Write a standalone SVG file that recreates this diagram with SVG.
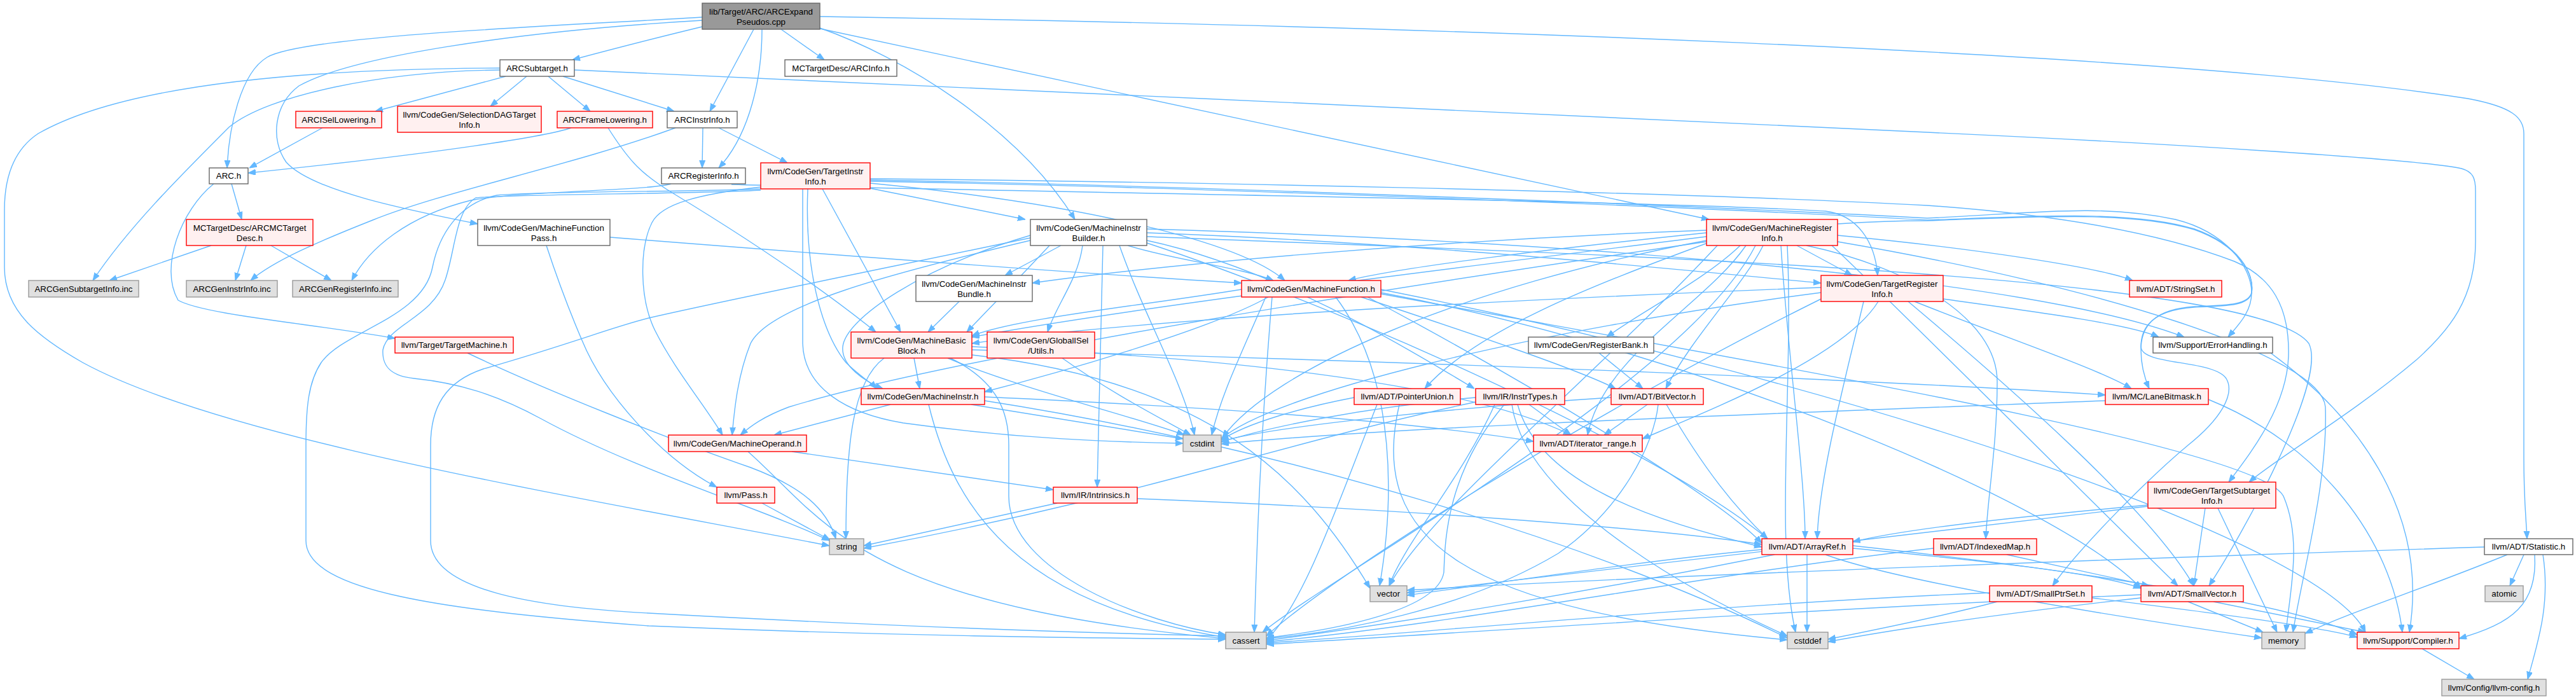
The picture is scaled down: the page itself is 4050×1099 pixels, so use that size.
<svg xmlns="http://www.w3.org/2000/svg" width="4050" height="1099" viewBox="0 0 4050 1099">
<defs>
<marker id="ah" markerWidth="12" markerHeight="10" refX="12" refY="4.5" orient="auto" markerUnits="userSpaceOnUse"><path d="M0,0 L12,4.5 L0,9 z" fill="#63b8ff" stroke="#63b8ff" stroke-width="1"/></marker>
<style>
.e{fill:none;stroke:#63b8ff;stroke-width:1.4;marker-end:url(#ah)}
.nd rect{stroke-width:1.4}
.w rect{fill:#ffffff;stroke:#666666}
.r rect{fill:#fff0f0;stroke:#ff0000}
.g rect{fill:#e0e0e0;stroke:#999999}
.root rect{fill:#999999;stroke:#666666}
.nd text{font-family:"Liberation Sans",Arial,Helvetica,sans-serif;font-size:13.33px;fill:#000000;text-anchor:middle}
</style>
</defs>
<rect x="0" y="0" width="4050" height="1099" fill="#ffffff"/>
<g id="edges">
<path class="e" d="M1104,42 C1050,55 960,78 900,94"/>
<path class="e" d="M1104,27 C900,40 480,55 420,90 C378,115 360,200 357,264"/>
<path class="e" d="M1104,32 C800,50 550,90 470,135 C430,165 425,220 450,255 C490,300 640,330 751,352"/>
<path class="e" d="M1228,46 L1296,94"/>
<path class="e" d="M1185,46 L1116,175"/>
<path class="e" d="M1198,46 C1198,120 1180,210 1130,264"/>
<path class="e" d="M1289,44 C1420,90 1600,200 1690,345"/>
<path class="e" d="M1289,45 L2687,345"/>
<path class="e" d="M1289,26 C2200,40 3400,80 3880,155 C3950,168 3968,185 3968,210 L3968,720 C3968,790 3972,820 3973,847"/>
<path class="e" d="M795,120 L590,175"/>
<path class="e" d="M828,120 L771,167"/>
<path class="e" d="M862,120 L928,175"/>
<path class="e" d="M885,120 L1060,175"/>
<path class="e" d="M903,110 C1500,135 2500,185 3030,208 C3400,225 3800,250 3870,265 C3888,270 3892,280 3892,300 L3892,380 C3892,470 3850,520 3800,565 C3700,650 3580,720 3536,758"/>
<path class="e" d="M786,107 C500,108 200,130 60,210 C15,240 7,290 7,330 L7,420 C7,490 60,530 130,570 C350,690 900,780 1304,858"/>
<path class="e" d="M786,110 C600,112 420,150 360,200 C280,280 200,360 146,441"/>
<path class="e" d="M507,201 L392,264"/>
<path class="e" d="M898,201 C860,214 700,240 390,272"/>
<path class="e" d="M956,201 C990,255 1010,275 1060,305 C1200,390 1300,460 1377,522"/>
<path class="e" d="M364,289 L380,345"/>
<path class="e" d="M336,289 C285,330 250,420 280,472 C320,495 500,510 621,532"/>
<path class="e" d="M332,386 L172,441"/>
<path class="e" d="M387,386 L370,441"/>
<path class="e" d="M426,386 L521,441"/>
<path class="e" d="M1105,201 L1104,264"/>
<path class="e" d="M1130,201 L1238,256"/>
<path class="e" d="M1062,201 C900,260 700,300 586,346 C500,380 430,410 394,441"/>
<path class="e" d="M1150,290 C1500,300 2600,315 2870,332 C2920,338 2948,380 2952,433"/>
<path class="e" d="M1055,289 C1020,300 820,300 740,315 C640,340 580,390 553,441"/>
<path class="e" d="M1368,296 L1612,345"/>
<path class="e" d="M1293,297 L1416,522"/>
<path class="e" d="M1270,297 C1265,420 1290,520 1330,570 C1350,590 1368,600 1378,611"/>
<path class="e" d="M1196,294 C1100,305 1040,320 1025,350 C1005,390 1005,470 1030,520 C1060,580 1110,640 1136,684"/>
<path class="e" d="M1262,297 L1262,540 C1264,610 1330,650 1420,665 C1600,690 1750,695 1860,697"/>
<path class="e" d="M1196,297 C1100,302 850,300 781,307 C720,320 690,370 680,420 C665,500 540,520 505,570 C485,600 481,640 481,700 L481,850 C481,930 700,960 1020,984 C1400,1000 1700,1003 1927,1005"/>
<path class="e" d="M1196,299 C1100,305 800,305 748,311 C716,330 716,393 700,440 C680,500 610,510 602,550 C600,580 620,592 651,595 C720,602 780,620 850,658 C1000,740 1200,800 1304,850"/>
<path class="e" d="M1368,281 C1800,285 2600,300 3030,323 C3200,335 3380,360 3513,411 C3570,435 3600,480 3598,560 C3595,640 3540,710 3504,758"/>
<path class="e" d="M1368,283 C1800,290 2600,320 3030,343 C3200,335 3300,320 3420,345 C3500,365 3540,420 3540,460 C3540,490 3520,510 3503,530"/>
<path class="e" d="M1368,285 C1800,292 2600,322 3030,346 C3200,340 3350,330 3450,360 C3520,385 3545,430 3540,460 C3535,480 3500,480 3450,482 C3390,486 3366,510 3366,550 C3366,575 3372,595 3379,611"/>
<path class="e" d="M1368,288 C1700,320 1950,380 2020,441"/>
<path class="e" d="M959,373 C1300,400 1700,430 1952,445"/>
<path class="e" d="M859,386 C880,450 900,500 915,535 C950,620 1040,720 1127,766"/>
<path class="e" d="M1668,386 L1580,433"/>
<path class="e" d="M1702,386 C1695,440 1660,480 1647,522"/>
<path class="e" d="M1773,386 C1850,410 1950,420 2002,441"/>
<path class="e" d="M1650,386 C1600,440 1550,490 1520,522"/>
<path class="e" d="M1620,370 C1450,420 1330,500 1325,545 C1322,575 1360,600 1388,611"/>
<path class="e" d="M1620,378 C1400,430 1210,480 1180,540 C1160,590 1155,640 1151,684"/>
<path class="e" d="M1803,366 C2200,380 2600,420 2863,445"/>
<path class="e" d="M1803,378 C2000,420 2200,540 2318,611"/>
<path class="e" d="M1734,386 L1725,766"/>
<path class="e" d="M1803,382 C2100,480 2600,700 2779,847"/>
<path class="e" d="M1803,372 C2500,400 3550,430 3630,540 C3660,600 3520,850 3473,921"/>
<path class="e" d="M1803,360 C2500,380 3200,440 3434,530"/>
<path class="e" d="M1620,374 C1400,420 1150,470 1020,500 C960,515 900,540 760,580 C700,600 677,640 677,700 L677,850 C677,930 850,955 1020,964 C1400,985 1700,995 1927,1000"/>
<path class="e" d="M1760,386 C1800,500 1860,600 1878,684"/>
<path class="e" d="M2825,386 L2912,433"/>
<path class="e" d="M2772,386 C2740,450 2660,530 2619,611"/>
<path class="e" d="M2736,386 C2680,440 2580,490 2526,530"/>
<path class="e" d="M2690,380 C2500,450 2320,520 2240,611"/>
<path class="e" d="M2745,386 C2680,480 2520,560 2496,684"/>
<path class="e" d="M2800,386 C2810,550 2838,750 2838,847"/>
<path class="e" d="M2840,386 C3000,420 3140,500 3140,600 C3140,700 3125,780 3122,847"/>
<path class="e" d="M2889,352 C2950,348 3000,347 3030,347 C3200,341 3350,331 3450,361 C3520,386 3545,431 3540,461 C3535,481 3500,481 3450,483 C3390,487 3366,510 3366,545 C3366,575 3480,565 3500,595 C3515,620 3490,660 3440,700 C3380,750 3270,860 3227,921"/>
<path class="e" d="M2889,370 C3100,390 3300,420 3353,441"/>
<path class="e" d="M2683,372 C2300,420 1800,480 1528,530"/>
<path class="e" d="M2683,366 C2450,390 2200,420 2120,441"/>
<path class="e" d="M2683,362 C2200,380 1800,420 1623,445"/>
<path class="e" d="M2683,380 C2200,450 1500,560 1240,640 C1200,655 1180,670 1164,684"/>
<path class="e" d="M2760,386 C2650,600 2100,900 1985,994"/>
<path class="e" d="M2810,386 C2820,600 2790,850 2823,994"/>
<path class="e" d="M2683,378 C2300,450 2000,580 1922,688"/>
<path class="e" d="M2889,380 C3300,450 3650,560 3656,640 C3660,760 3620,900 3605,994"/>
<path class="e" d="M2700,386 C2500,600 2250,800 2184,921"/>
<path class="e" d="M2880,386 C2950,450 3300,800 3424,921"/>
<path class="e" d="M2930,474 C2900,600 2860,750 2857,847"/>
<path class="e" d="M3000,474 C3150,600 3380,800 3449,921"/>
<path class="e" d="M2953,474 C2900,560 2700,640 2582,690"/>
<path class="e" d="M2863,452 C2400,470 1800,500 1528,540"/>
<path class="e" d="M3010,474 C3150,530 3300,580 3351,611"/>
<path class="e" d="M3055,470 C3200,490 3350,510 3394,530"/>
<path class="e" d="M2863,470 C2500,650 2100,900 1991,1000"/>
<path class="e" d="M2863,460 C2400,520 2000,620 1920,690"/>
<path class="e" d="M1952,455 C1800,480 1600,500 1528,528"/>
<path class="e" d="M1994,467 C1900,520 1650,590 1548,616"/>
<path class="e" d="M2150,467 C2400,600 2700,780 2770,854"/>
<path class="e" d="M2140,467 C2300,520 2480,580 2540,611"/>
<path class="e" d="M2171,460 C2700,560 3250,800 3366,925"/>
<path class="e" d="M2171,455 C2900,600 3650,850 3719,994"/>
<path class="e" d="M2000,467 C1980,700 1975,900 1972,994"/>
<path class="e" d="M1990,467 C1950,560 1920,620 1905,684"/>
<path class="e" d="M2171,462 C2700,560 3550,700 3590,780 C3620,850 3600,930 3594,994"/>
<path class="e" d="M2100,467 C2200,600 2190,800 2169,921"/>
<path class="e" d="M1437,563 L1446,611"/>
<path class="e" d="M1528,545 C1900,560 2300,600 2470,684"/>
<path class="e" d="M1528,550 C2300,570 3000,600 3310,621"/>
<path class="e" d="M1390,563 C1340,600 1330,700 1330,847"/>
<path class="e" d="M1494,563 C1570,600 1586,650 1586,700 L1586,780 C1586,900 1800,980 1927,998"/>
<path class="e" d="M1490,563 C1600,610 1800,660 1862,684"/>
<path class="e" d="M1528,558 C1900,600 2050,750 2154,925"/>
<path class="e" d="M1400,636 L1217,684"/>
<path class="e" d="M1548,624 C1900,640 2200,660 2411,694"/>
<path class="e" d="M1527,636 L1860,690"/>
<path class="e" d="M1460,636 C1500,800 1600,950 1927,1002"/>
<path class="e" d="M1548,630 C2000,700 2500,850 2810,1003"/>
<path class="e" d="M1245,710 L1656,770"/>
<path class="e" d="M1176,710 C1300,820 1350,950 1927,1004"/>
<path class="e" d="M1662,791 L1358,858"/>
<path class="e" d="M1788,784 C2200,800 2600,830 2770,856"/>
<path class="e" d="M1198,791 L1305,849"/>
<path class="e" d="M735,555 C850,610 1050,690 1180,735 C1260,765 1300,800 1314,847"/>
<path class="e" d="M1508,474 L1459,522"/>
<path class="e" d="M1670,563 C1750,620 1830,660 1872,684"/>
<path class="e" d="M2514,555 L2583,611"/>
<path class="e" d="M2404,636 L2470,684"/>
<path class="e" d="M2386,636 C2420,760 2600,820 2770,860"/>
<path class="e" d="M2377,636 C2400,800 2700,950 2810,1000"/>
<path class="e" d="M2350,636 C2300,750 2210,850 2184,921"/>
<path class="e" d="M2365,636 C2270,750 2272,860 2270,900 C2260,960 2100,990 1991,1003"/>
<path class="e" d="M2320,625 C2150,640 2000,670 1920,695"/>
<path class="e" d="M2320,632 C2000,700 1800,780 1358,862"/>
<path class="e" d="M2165,636 C2100,800 2050,950 1991,1006"/>
<path class="e" d="M2200,636 C2150,850 2300,960 2810,1006"/>
<path class="e" d="M2129,625 C2050,640 1960,665 1920,692"/>
<path class="e" d="M2590,636 L2522,684"/>
<path class="e" d="M2620,636 C2680,740 2730,800 2779,847"/>
<path class="e" d="M2607,636 C2600,700 2550,800 2450,870 C2300,960 2100,995 1991,1004"/>
<path class="e" d="M2533,625 C2300,640 2000,670 1920,694"/>
<path class="e" d="M3472,628 C3650,700 3760,850 3777,994"/>
<path class="e" d="M3310,630 C2800,650 2200,670 1920,698"/>
<path class="e" d="M3467,799 L3449,921"/>
<path class="e" d="M3487,799 L3580,994"/>
<path class="e" d="M3377,794 C3200,810 3000,830 2913,852"/>
<path class="e" d="M3377,796 C3000,840 2500,900 2212,932"/>
<path class="e" d="M2913,862 C3100,880 3300,900 3366,925"/>
<path class="e" d="M2913,858 C3300,900 3600,950 3706,998"/>
<path class="e" d="M2870,872 C3000,920 3400,980 3556,1003"/>
<path class="e" d="M2790,872 C2500,930 2200,980 1991,1007"/>
<path class="e" d="M2841,872 L2841,994"/>
<path class="e" d="M2770,864 C2600,880 2400,910 2212,936"/>
<path class="e" d="M3155,872 L3379,921"/>
<path class="e" d="M3040,862 C2700,900 2300,980 1991,1009"/>
<path class="e" d="M3289,940 C3450,960 3650,985 3706,1002"/>
<path class="e" d="M3128,932 C2700,950 2300,990 1991,1011"/>
<path class="e" d="M3140,946 C3050,970 2950,990 2874,1005"/>
<path class="e" d="M3480,946 L3719,994"/>
<path class="e" d="M3440,946 L3558,994"/>
<path class="e" d="M3366,935 C2800,960 2300,995 1991,1013"/>
<path class="e" d="M3366,940 C3100,970 2950,995 2874,1009"/>
<path class="e" d="M3570,555 C3700,650 3820,800 3788,994"/>
<path class="e" d="M3906,860 C3300,880 2600,905 2212,928"/>
<path class="e" d="M3942,872 C3800,930 3700,960 3624,996"/>
<path class="e" d="M3968,872 L3946,921"/>
<path class="e" d="M3985,872 C3990,950 3950,980 3866,1004"/>
<path class="e" d="M3998,872 C4010,950 3990,1010 3974,1068"/>
<path class="e" d="M3808,1020 L3890,1068"/>
</g>
<g id="node-root" class="nd root"><rect x="1104" y="5" width="185" height="41"/><text><tspan x="1196.5" y="23.3">lib/Target/ARC/ARCExpand</tspan><tspan x="1196.5" y="38.7">Pseudos.cpp</tspan></text></g>
<g id="node-arcsubtarget" class="nd w"><rect x="786" y="94" width="117" height="26"/><text x="844.5" y="111.5">ARCSubtarget.h</text></g>
<g id="node-arcinfo" class="nd w"><rect x="1234" y="94" width="176" height="26"/><text x="1322" y="111.5">MCTargetDesc/ARCInfo.h</text></g>
<g id="node-arcinstrinfo" class="nd w"><rect x="1049" y="175" width="110" height="26"/><text x="1104" y="192.5">ARCInstrInfo.h</text></g>
<g id="node-arcisellowering" class="nd r"><rect x="465" y="175" width="135" height="26"/><text x="532.5" y="192.5">ARCISelLowering.h</text></g>
<g id="node-selectiondag" class="nd r"><rect x="625" y="167" width="226" height="41"/><text><tspan x="738" y="185.3">llvm/CodeGen/SelectionDAGTarget</tspan><tspan x="738" y="200.7">Info.h</tspan></text></g>
<g id="node-arcframelowering" class="nd r"><rect x="876" y="175" width="150" height="26"/><text x="951" y="192.5">ARCFrameLowering.h</text></g>
<g id="node-arc" class="nd w"><rect x="329" y="264" width="61" height="25"/><text x="359.5" y="281">ARC.h</text></g>
<g id="node-arcregisterinfo" class="nd w"><rect x="1040" y="264" width="132" height="25"/><text x="1106" y="281">ARCRegisterInfo.h</text></g>
<g id="node-targetinstrinfo" class="nd r"><rect x="1196" y="256" width="172" height="41"/><text><tspan x="1282" y="274.3">llvm/CodeGen/TargetInstr</tspan><tspan x="1282" y="289.7">Info.h</tspan></text></g>
<g id="node-arcmctargetdesc" class="nd r"><rect x="293" y="345" width="199" height="41"/><text><tspan x="392.5" y="363.3">MCTargetDesc/ARCMCTarget</tspan><tspan x="392.5" y="378.7">Desc.h</tspan></text></g>
<g id="node-mfpass" class="nd w"><rect x="751" y="345" width="208" height="41"/><text><tspan x="855" y="363.3">llvm/CodeGen/MachineFunction</tspan><tspan x="855" y="378.7">Pass.h</tspan></text></g>
<g id="node-mibuilder" class="nd w"><rect x="1620" y="345" width="183" height="41"/><text><tspan x="1711.5" y="363.3">llvm/CodeGen/MachineInstr</tspan><tspan x="1711.5" y="378.7">Builder.h</tspan></text></g>
<g id="node-mri" class="nd r"><rect x="2683" y="345" width="206" height="41"/><text><tspan x="2786" y="363.3">llvm/CodeGen/MachineRegister</tspan><tspan x="2786" y="378.7">Info.h</tspan></text></g>
<g id="node-gensubtarget" class="nd g"><rect x="45" y="441" width="173" height="26"/><text x="131.5" y="458.5">ARCGenSubtargetInfo.inc</text></g>
<g id="node-geninstr" class="nd g"><rect x="293" y="441" width="143" height="26"/><text x="364.5" y="458.5">ARCGenInstrInfo.inc</text></g>
<g id="node-genregister" class="nd g"><rect x="460" y="441" width="166" height="26"/><text x="543" y="458.5">ARCGenRegisterInfo.inc</text></g>
<g id="node-mibundle" class="nd w"><rect x="1440" y="433" width="183" height="41"/><text><tspan x="1531.5" y="451.3">llvm/CodeGen/MachineInstr</tspan><tspan x="1531.5" y="466.7">Bundle.h</tspan></text></g>
<g id="node-mfunction" class="nd r"><rect x="1952" y="441" width="219" height="26"/><text x="2061.5" y="458.5">llvm/CodeGen/MachineFunction.h</text></g>
<g id="node-tri" class="nd r"><rect x="2863" y="433" width="192" height="41"/><text><tspan x="2959" y="451.3">llvm/CodeGen/TargetRegister</tspan><tspan x="2959" y="466.7">Info.h</tspan></text></g>
<g id="node-stringset" class="nd r"><rect x="3348" y="441" width="145" height="26"/><text x="3420.5" y="458.5">llvm/ADT/StringSet.h</text></g>
<g id="node-targetmachine" class="nd r"><rect x="621" y="530" width="186" height="25"/><text x="714" y="547">llvm/Target/TargetMachine.h</text></g>
<g id="node-registerbank" class="nd w"><rect x="2403" y="530" width="197" height="25"/><text x="2501.5" y="547">llvm/CodeGen/RegisterBank.h</text></g>
<g id="node-errorhandling" class="nd w"><rect x="3385" y="530" width="188" height="25"/><text x="3479" y="547">llvm/Support/ErrorHandling.h</text></g>
<g id="node-mbb" class="nd r"><rect x="1338" y="522" width="190" height="41"/><text><tspan x="1433" y="540.3">llvm/CodeGen/MachineBasic</tspan><tspan x="1433" y="555.7">Block.h</tspan></text></g>
<g id="node-gisel-utils" class="nd r"><rect x="1552" y="522" width="169" height="41"/><text><tspan x="1636.5" y="540.3">llvm/CodeGen/GlobalISel</tspan><tspan x="1636.5" y="555.7">/Utils.h</tspan></text></g>
<g id="node-machineinstr" class="nd r"><rect x="1354" y="611" width="194" height="25"/><text x="1451" y="628">llvm/CodeGen/MachineInstr.h</text></g>
<g id="node-pointerunion" class="nd r"><rect x="2129" y="611" width="167" height="25"/><text x="2212.5" y="628">llvm/ADT/PointerUnion.h</text></g>
<g id="node-instrtypes" class="nd r"><rect x="2320" y="611" width="140" height="25"/><text x="2390" y="628">llvm/IR/InstrTypes.h</text></g>
<g id="node-bitvector" class="nd r"><rect x="2533" y="611" width="145" height="25"/><text x="2605.5" y="628">llvm/ADT/BitVector.h</text></g>
<g id="node-lanebitmask" class="nd r"><rect x="3310" y="611" width="162" height="25"/><text x="3391" y="628">llvm/MC/LaneBitmask.h</text></g>
<g id="node-machineoperand" class="nd r"><rect x="1051" y="684" width="217" height="26"/><text x="1159.5" y="701.5">llvm/CodeGen/MachineOperand.h</text></g>
<g id="node-cstdint" class="nd g"><rect x="1860" y="684" width="60" height="26"/><text x="1890" y="701.5">cstdint</text></g>
<g id="node-iterator-range" class="nd r"><rect x="2411" y="684" width="171" height="26"/><text x="2496.5" y="701.5">llvm/ADT/iterator_range.h</text></g>
<g id="node-tsi" class="nd r"><rect x="3377" y="758" width="201" height="41"/><text><tspan x="3477.5" y="776.3">llvm/CodeGen/TargetSubtarget</tspan><tspan x="3477.5" y="791.7">Info.h</tspan></text></g>
<g id="node-pass" class="nd r"><rect x="1127" y="766" width="91" height="25"/><text x="1172.5" y="783">llvm/Pass.h</text></g>
<g id="node-intrinsics" class="nd r"><rect x="1656" y="766" width="132" height="25"/><text x="1722" y="783">llvm/IR/Intrinsics.h</text></g>
<g id="node-string" class="nd g"><rect x="1304" y="847" width="54" height="25"/><text x="1331" y="864">string</text></g>
<g id="node-arrayref" class="nd r"><rect x="2770" y="847" width="143" height="25"/><text x="2841.5" y="864">llvm/ADT/ArrayRef.h</text></g>
<g id="node-indexedmap" class="nd r"><rect x="3040" y="847" width="162" height="25"/><text x="3121" y="864">llvm/ADT/IndexedMap.h</text></g>
<g id="node-statistic" class="nd w"><rect x="3906" y="847" width="139" height="25"/><text x="3975.5" y="864">llvm/ADT/Statistic.h</text></g>
<g id="node-vector" class="nd g"><rect x="2154" y="921" width="58" height="25"/><text x="2183" y="938">vector</text></g>
<g id="node-smallptrset" class="nd r"><rect x="3128" y="921" width="161" height="25"/><text x="3208.5" y="938">llvm/ADT/SmallPtrSet.h</text></g>
<g id="node-smallvector" class="nd r"><rect x="3366" y="921" width="161" height="25"/><text x="3446.5" y="938">llvm/ADT/SmallVector.h</text></g>
<g id="node-atomic" class="nd g"><rect x="3907" y="921" width="60" height="25"/><text x="3937" y="938">atomic</text></g>
<g id="node-cassert" class="nd g"><rect x="1927" y="994" width="64" height="26"/><text x="1959" y="1011.5">cassert</text></g>
<g id="node-cstddef" class="nd g"><rect x="2810" y="994" width="64" height="26"/><text x="2842" y="1011.5">cstddef</text></g>
<g id="node-memory" class="nd g"><rect x="3556" y="994" width="68" height="26"/><text x="3590" y="1011.5">memory</text></g>
<g id="node-compiler" class="nd r"><rect x="3706" y="994" width="160" height="26"/><text x="3786" y="1011.5">llvm/Support/Compiler.h</text></g>
<g id="node-llvm-config" class="nd g"><rect x="3839" y="1068" width="164" height="26"/><text x="3921" y="1085.5">llvm/Config/llvm-config.h</text></g>
</svg>
